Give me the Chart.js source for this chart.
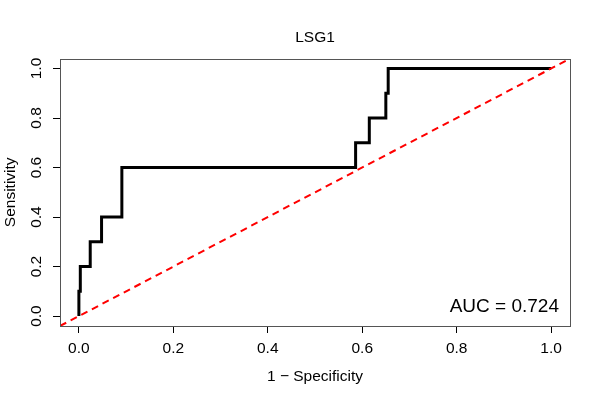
<!DOCTYPE html>
<html>
<head>
<meta charset="utf-8">
<script src="https://cdn.jsdelivr.net/npm/chart.js@4.4.1/dist/chart.umd.min.js"></script>
<style>
  body { margin: 0; background: #fff; }
  #wrap { width: 600px; height: 400px; }
</style>
</head>
<body>
<div id="wrap"><canvas id="rocChart" width="600" height="400"></canvas></div>
<script>
// ROC DATA (1 - specificity, sensitivity)
const fpr = [0, 0, 0.003, 0.003, 0.024, 0.024, 0.048, 0.048, 0.091, 0.091, 0.586, 0.586, 0.615, 0.615, 0.650, 0.650, 0.655, 0.655, 1.0];
const tpr = [0, 0.1, 0.1, 0.2, 0.2, 0.3, 0.3, 0.4, 0.4, 0.6, 0.6, 0.7, 0.7, 0.8, 0.8, 0.9, 0.9, 1.0, 1.0];
const tickValues = [0, 0.2, 0.4, 0.6, 0.8, 1.0];
const axisMin = -0.04;
const axisMax = 1.04;
const aucLabel = "AUC = 0.724";

const FONT = "'Liberation Sans', Arial, Helvetica, sans-serif";

const rocPoints = fpr.map(function (x, i) { return { x: x, y: tpr[i] }; });
const diagPoints = [axisMin, axisMax].map(function (v) { return { x: v, y: v }; });

// box around plot + AUC text, title centred over the plot region (like R)
const rocExtras = {
  id: "rocExtras",
  afterLayout: function (chart) {
    if (chart.titleBlock) {
      chart.titleBlock.left = chart.chartArea.left;
      chart.titleBlock.right = chart.chartArea.right;
    }
  },
  afterDatasetsDraw: function (chart) {
    const ctx = chart.ctx;
    const a = chart.chartArea;
    ctx.save();
    ctx.strokeStyle = "#555";
    ctx.lineWidth = 1;
    ctx.strokeRect(Math.round(a.left) + 0.5, Math.round(a.top) + 0.5,
      Math.round(a.right - a.left), Math.round(a.bottom - a.top));
    ctx.fillStyle = "#000";
    ctx.font = "19px " + FONT;
    ctx.textAlign = "right";
    ctx.textBaseline = "alphabetic";
    ctx.fillText(aucLabel, a.right - 11, a.bottom - 14);
    ctx.restore();
  }
};

function fixedTicks(scale) {
  scale.ticks = tickValues.map(function (v) { return { value: v }; });
}

const tickFont = { family: FONT, size: 15.5 };

new Chart(document.getElementById("rocChart"), {
  type: "scatter",
  data: {
    datasets: [
      {
        data: diagPoints,
        showLine: true,
        borderColor: "#ff0000",
        borderWidth: 2,
        borderDash: [7, 5],
        pointRadius: 0,
        fill: false
      },
      {
        data: rocPoints,
        showLine: true,
        borderColor: "#000",
        borderWidth: 3,
        pointRadius: 0,
        tension: 0,
        fill: false
      }
    ]
  },
  options: {
    responsive: false,
    animation: false,
    events: [],
    layout: { padding: { left: 0, right: 30, top: 0, bottom: 0 } },
    plugins: {
      legend: { display: false },
      tooltip: { enabled: false },
      title: {
        display: true,
        text: "LSG1",
        color: "#000",
        font: { family: FONT, size: 15.5, weight: "normal" },
        padding: { top: 28, bottom: 12 }
      }
    },
    scales: {
      x: {
        type: "linear",
        min: axisMin,
        max: axisMax,
        afterBuildTicks: fixedTicks,
        afterFit: function (s) { s.height = 74; },
        border: { display: false },
        grid: { drawOnChartArea: false, drawTicks: true, tickLength: 7, color: "#000" },
        ticks: {
          color: "#000",
          font: tickFont,
          padding: 6,
          maxRotation: 0,
          callback: function (v) { return v.toFixed(1); }
        },
        title: {
          display: true,
          text: "1 \u2212 Specificity",
          color: "#000",
          font: tickFont,
          padding: { top: 14, bottom: 14 }
        }
      },
      y: {
        type: "linear",
        min: axisMin,
        max: axisMax,
        afterBuildTicks: fixedTicks,
        afterFit: function (s) { s.width = 60; },
        border: { display: false },
        grid: { drawOnChartArea: false, drawTicks: true, tickLength: 7, color: "#000" },
        ticks: {
          color: "#000",
          font: tickFont,
          padding: 6,
          minRotation: 90,
          maxRotation: 90,
          crossAlign: "center",
          callback: function (v) { return v.toFixed(1); }
        },
        title: {
          display: true,
          text: "Sensitivity",
          color: "#000",
          font: tickFont,
          padding: { top: 1, bottom: 1 }
        }
      }
    }
  },
  plugins: [rocExtras]
});
</script>
</body>
</html>
